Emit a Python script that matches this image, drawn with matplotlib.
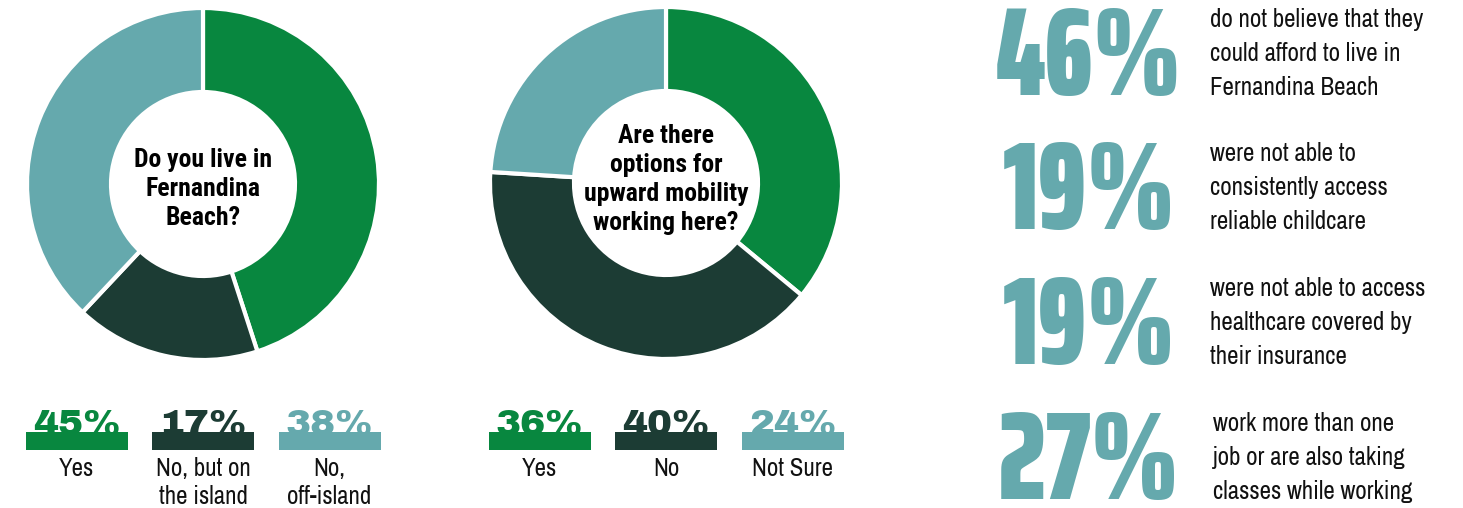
import matplotlib
matplotlib.use("Agg")
import matplotlib.pyplot as plt

# survey answers
live_question = ["Do you live in", "Fernandina", "Beach?"]
live_labels = [["Yes"], ["No, but on", "the island"], ["No,", "off-island"]]
live_values = [45, 17, 38]

mobility_question = ["Are there", "options for", "upward mobility", "working here?"]
mobility_labels = [["Yes"], ["No"], ["Not Sure"]]
mobility_values = [36, 40, 24]

stat_values = [46, 19, 19, 27]
stat_texts = [
    ["do not believe that they", "could afford to live in", "Fernandina Beach"],
    ["were not able to", "consistently access", "reliable childcare"],
    ["were not able to access", "healthcare covered by", "their insurance"],
    ["work more than one", "job or are also taking", "classes while working"],
]

GREEN = "#08873f"
DARK = "#1c3c34"
TEAL = "#65a9ad"
colors = [GREEN, DARK, TEAL]

W, H = 1463, 508
fig = plt.figure(figsize=(W / 100, H / 100), dpi=100)
ax = fig.add_axes([0, 0, 1, 1])


def y(v):
    # pixel rows are counted from the top
    return H - v


def donut(cx, cy, values, question, q_base, labels):
    ax.pie(values, colors=colors, startangle=90, counterclock=False,
           center=(cx, y(cy)), radius=176,
           wedgeprops=dict(width=84, edgecolor="white", linewidth=3))
    for i, line in enumerate(question):
        ax.text(cx, y(q_base + 29 * i), line, ha="center", va="baseline",
                fontsize=18.5, fontweight="bold", family="Roboto Condensed", color="black")
    # colour swatches with the percentages under them
    xs = [cx - 126.5, cx, cx + 126.5]
    ax.bar(xs, 18, width=102, bottom=y(450), color=colors, zorder=3)
    for xc, v, c, lab in zip(xs, values, colors, labels):
        ax.text(xc, y(435), f"{v}%", ha="center", va="baseline", fontsize=27,
                family="Archivo Black", color=c, zorder=2)
        for j, line in enumerate(lab):
            ax.text(xc, y(476 + 28 * j), line, ha="center", va="baseline",
                    fontsize=18, family="Archivo Narrow", color="#111111")


donut(203, 184, live_values, live_question, 167, live_labels)
donut(666, 183, mobility_values, mobility_question, 143, mobility_labels)

# big numbers on the right
bases = [95, 229, 364, 499]
text_x = [1210, 1210, 1210, 1213]
for v, lines, b, tx in zip(stat_values, stat_texts, bases, text_x):
    ax.text(1089, y(b), f"{v}%", ha="center", va="baseline", fontsize=90,
            family="Saira ExtraCondensed", fontweight=900, color=TEAL)
    for j, line in enumerate(lines):
        ax.text(tx, y(b - 34 * (2 - j)), line, ha="left", va="baseline",
                fontsize=18, family="Archivo Narrow", color="#111111")

ax.set_xlim(0, W)
ax.set_ylim(0, H)
ax.set_aspect("auto")
ax.axis("off")
fig.savefig("out.png", dpi=100)
